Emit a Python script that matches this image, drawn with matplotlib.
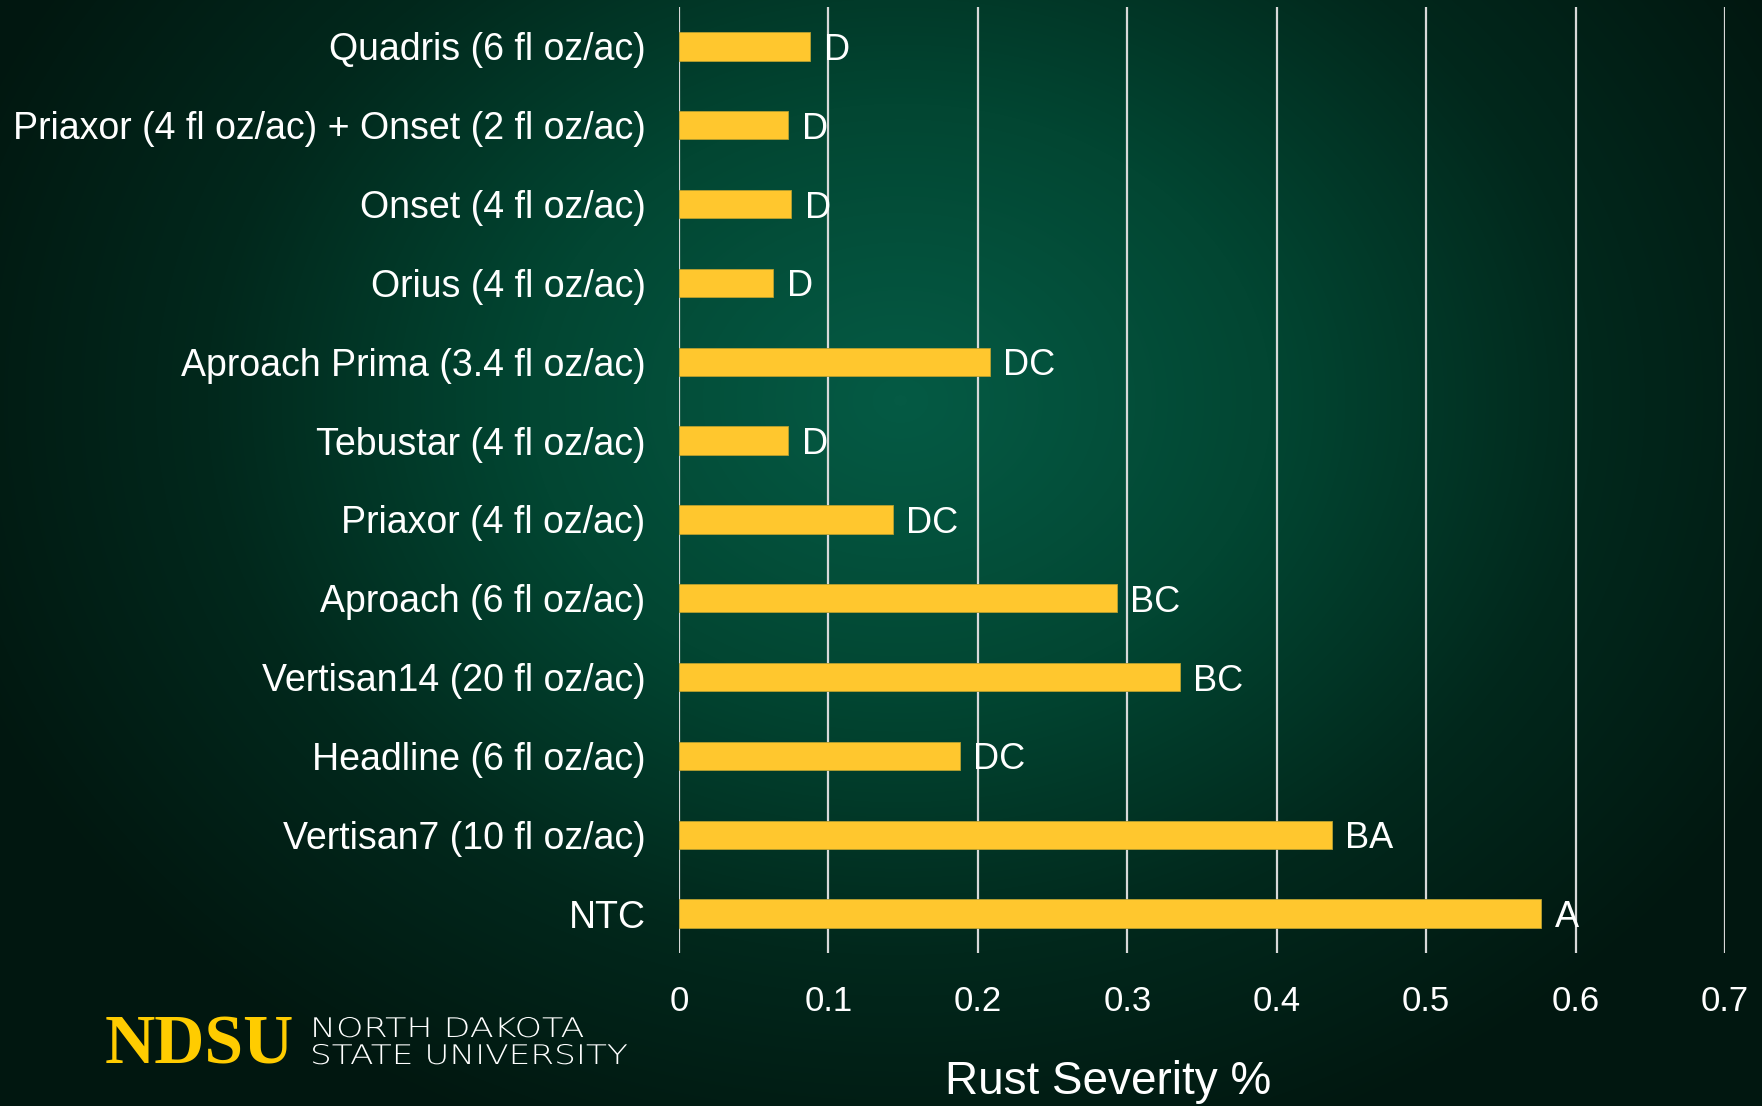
import numpy as np
import matplotlib
matplotlib.use("Agg")
import matplotlib.pyplot as plt
from matplotlib.colors import LinearSegmentedColormap
from matplotlib.textpath import TextPath
from matplotlib.patches import PathPatch
from matplotlib.font_manager import FontProperties
from matplotlib.transforms import Affine2D

treatments = [
    "Quadris (6 fl oz/ac)",
    "Priaxor (4 fl oz/ac) + Onset (2 fl oz/ac)",
    "Onset (4 fl oz/ac)",
    "Orius (4 fl oz/ac)",
    "Aproach Prima (3.4 fl oz/ac)",
    "Tebustar (4 fl oz/ac)",
    "Priaxor (4 fl oz/ac)",
    "Aproach (6 fl oz/ac)",
    "Vertisan14 (20 fl oz/ac)",
    "Headline (6 fl oz/ac)",
    "Vertisan7 (10 fl oz/ac)",
    "NTC",
]
severity = [0.088, 0.073, 0.075, 0.063, 0.208, 0.073, 0.143, 0.293, 0.335, 0.188, 0.437, 0.577]
groups = ["D", "D", "D", "D", "DC", "D", "DC", "BC", "BC", "DC", "BA", "A"]
xticks = [0, 0.1, 0.2, 0.3, 0.4, 0.5, 0.6, 0.7]
xtick_labels = ["0", "0.1", "0.2", "0.3", "0.4", "0.5", "0.6", "0.7"]

plt.rcParams["font.family"] = ["Liberation Sans", "DejaVu Sans"]

W, H = 1762, 1106
fig = plt.figure(figsize=(W / 100, H / 100), dpi=100)

# background: radial green gradient
bg = fig.add_axes([0, 0, 1, 1], zorder=-1)
yy, xx = np.mgrid[0:H, 0:W]
r = np.sqrt(((xx - 900) / 1000.0) ** 2 + ((yy - 400) / 800.0) ** 2)
r = np.clip(r, 0, 1) ** 1.1
cmap = LinearSegmentedColormap.from_list("bg", ["#055a44", "#024632", "#01281c", "#011710"])
bg.imshow(r, cmap=cmap, vmin=0, vmax=1, aspect="auto", extent=[0, 1, 0, 1])
bg.set_axis_off()

ax = fig.add_axes([679 / W, 1 - 953 / H, (1725 - 679) / W, (953 - 7) / H])
ax.set_facecolor("none")
y = np.arange(len(treatments))
ax.barh(y, severity, height=0.36, color="#ffc72e", edgecolor="#b8a030", linewidth=0.6, zorder=3)
for yi, v, g in zip(y, severity, groups):
    ax.text(v + 0.009, yi, g, color="white", fontsize=26, va="center_baseline", ha="left", zorder=4)

ax.set_ylim(len(treatments) - 0.5, -0.5)
ax.set_xlim(0, 0.7)
ax.set_yticks(y)
ax.set_yticklabels(treatments, color="white", fontsize=27)
ax.set_xticks(xticks)
ax.set_xticklabels(xtick_labels, color="white", fontsize=25)
ax.tick_params(axis="both", length=0)
ax.tick_params(axis="y", pad=24)
ax.tick_params(axis="x", pad=23)
ax.grid(axis="x", color="#d8d8d8", linewidth=1.6, zorder=1)
ax.set_axisbelow(True)
for s in ax.spines.values():
    s.set_visible(False)

fig.text(1108 / W, 1 - 1082 / H, "Rust Severity %", color="white", fontsize=33,
         ha="center", va="center")

# NDSU wordmark
fig.text(105 / W, 1 - 1064 / H, "NDSU", color="#ffcc00", fontsize=50,
         family=["Liberation Serif", "DejaVu Serif"], fontweight="bold", ha="left", va="baseline")

# thin, wide lettering next to the wordmark (drawn as stretched text paths, in pixels)
thin = FontProperties(family="DejaVu Sans", weight=200)
for line, base in [("NORTH DAKOTA", 1037), ("STATE UNIVERSITY", 1064)]:
    tp = TextPath((0, 0), line, size=27, prop=thin)
    tr = Affine2D().scale(1.0, 1.0)
    ext = tp.get_extents()
    sx = 1.0
    if line == "STATE UNIVERSITY":
        sx = 314.0 / ext.width
    else:
        sx = 269.0 / ext.width
    tr = Affine2D().scale(sx, 1.0).translate(310, H - base)
    fig.add_artist(PathPatch(tp, transform=tr, facecolor="white", edgecolor="none"))

fig.savefig("out.png", dpi=100)
